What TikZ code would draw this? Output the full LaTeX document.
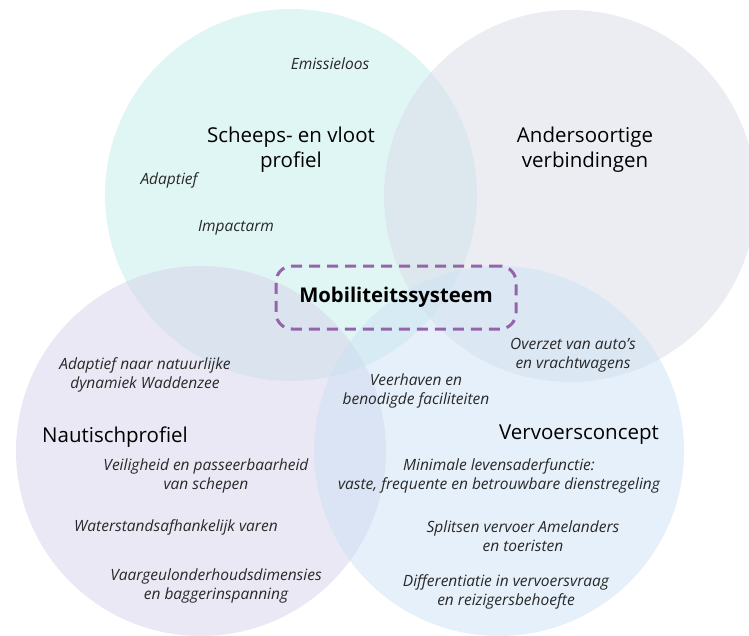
\documentclass[tikz,border=0pt]{standalone}
\usepackage{fontspec}
\setmainfont{Open Sans}
\definecolor{tealc}{RGB}{193,237,233}
\definecolor{grayc}{RGB}{217,219,231}
\definecolor{lavc}{RGB}{213,209,233}
\definecolor{bluec}{RGB}{205,225,245}
\definecolor{purp}{RGB}{150,100,170}
\definecolor{txt}{RGB}{40,40,40}
\tikzset{
  circ/.style={fill opacity=0.5, draw=none},
  head/.style={font=\fontsize{20.5}{25}\selectfont, align=center, text=black, inner sep=0pt},
  item/.style={font=\fontsize{15.5}{19}\selectfont\itshape, align=center, text=txt, inner sep=0pt},
  corebox/.style={draw=purp, line width=3pt, dash pattern=on 11pt off 7pt, rounded corners=16pt,
    minimum width=240pt, minimum height=63pt, font=\fontsize{20.3}{24}\selectfont\bfseries, text=black}
}
\begin{document}
\begin{tikzpicture}[x=1pt,y=-1pt]
\useasboundingbox (0,0) rectangle (749,635);
\fill[circ, tealc] (291,195) circle (186);
\fill[circ, grayc] (570,196) circle (186);
\fill[circ, lavc] (201,451) circle (185);
\fill[circ, bluec] (499,451) circle (185);

\node[corebox] (core) at (396,297.5) {Mobiliteitssysteem};

\node[head] (schip) at (291,150) {Scheeps- en vloot\\profiel};
\node[head] (ander) at (585,150) {Andersoortige\\verbindingen};
\node[head] (naut) at (115,437) {Nautischprofiel};
\node[head] (vervoer) at (579,435) {Vervoersconcept};

\node[item] (emis) at (330,64) {Emissieloos};
\node[item] (adap) at (169,180) {Adaptief};
\node[item] (impact) at (236,228) {Impactarm};
\node[item] (natuur) at (145,375) {Adaptief naar natuurlijke\\dynamiek Waddenzee};
\node[item] (veilig) at (206,476) {Veiligheid en passeerbaarheid\\van schepen};
\node[item] (water) at (176,527) {Waterstandsafhankelijk varen};
\node[item] (vaarg) at (216,586) {Vaargeulonderhoudsdimensies\\en baggerinspanning};
\node[item] (veer) at (416,391) {Veerhaven en\\benodigde faciliteiten};
\node[item] (overzet) at (573,355) {Overzet van auto's\\en vrachtwagens};
\node[item] (minim) at (499,476) {Minimale levensaderfunctie:\\vaste, frequente en betrouwbare dienstregeling};
\node[item] (split) at (523,536) {Splitsen vervoer Amelanders\\en toeristen};
\node[item] (diff) at (506,592) {Differentiatie in vervoersvraag\\en reizigersbehoefte};
\end{tikzpicture}
\end{document}
